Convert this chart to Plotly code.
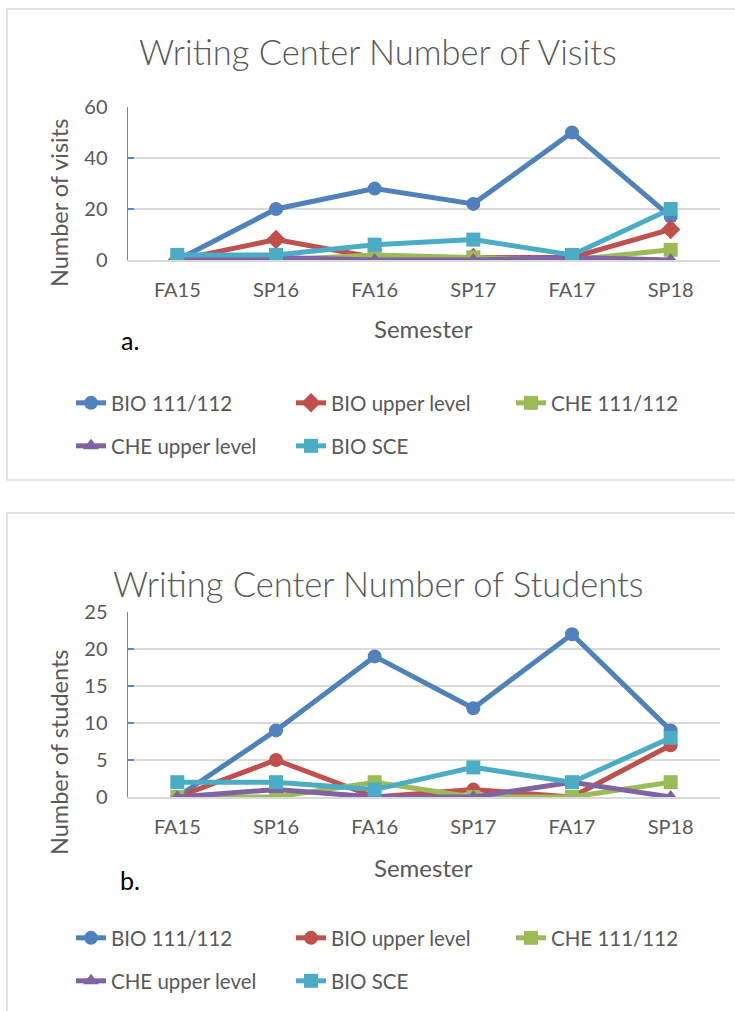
import plotly.graph_objects as go

W, H = 735, 1011

semesters = ["FA15", "SP16", "FA16", "SP17", "FA17", "SP18"]
series_names = ["BIO 111/112", "BIO upper level", "CHE 111/112", "CHE upper level", "BIO SCE"]
colors = ["#4F81BD", "#C0504D", "#9BBB59", "#8064A2", "#4BACC6"]
symbols_a = ["circle", "diamond", "square", "triangle-up", "square"]
symbols_b = ["circle", "circle", "square", "triangle-up", "square"]

# Panel a: number of visits
visits_bio111 = [0, 20, 28, 22, 50, 17]
visits_bio_upper = [0, 8, 1, 1, 1, 12]
visits_che111 = [0, 0, 2, 1, 0, 4]
visits_che_upper = [0, 1, 0, 0, 1, 0]
visits_bio_sce = [2, 2, 6, 8, 2, 20]

# Panel b: number of students
students_bio111 = [0, 9, 19, 12, 22, 9]
students_bio_upper = [0, 5, 0, 1, 0, 7]
students_che111 = [0, 0, 2, 0, 0, 2]
students_che_upper = [0, 1, 0, 0, 2, 0]
students_bio_sce = [2, 2, 1, 4, 2, 8]

visits = [visits_bio111, visits_bio_upper, visits_che111, visits_che_upper, visits_bio_sce]
students = [students_bio111, students_bio_upper, students_che111, students_che_upper, students_bio_sce]

FONT = "Lato"
GRAY = "#595959"


def px(x):
    return x / W


def py(y):
    return 1 - y / H


fig = go.Figure()

legend_rows_a = ["legend", "legend", "legend", "legend3", "legend3"]
legend_rows_b = ["legend2", "legend2", "legend2", "legend4", "legend4"]

for i, name in enumerate(series_names):
    fig.add_trace(go.Scatter(
        x=semesters, y=visits[i], name=name, mode="lines+markers",
        line=dict(color=colors[i], width=5),
        marker=dict(symbol=symbols_a[i], size=14 if symbols_a[i] != "diamond" else 15, color=colors[i]),
        xaxis="x", yaxis="y", legend=legend_rows_a[i],
    ))
for i, name in enumerate(series_names):
    fig.add_trace(go.Scatter(
        x=semesters, y=students[i], name=name, mode="lines+markers",
        line=dict(color=colors[i], width=5),
        marker=dict(symbol=symbols_b[i], size=14, color=colors[i]),
        xaxis="x2", yaxis="y2", legend=legend_rows_b[i],
    ))

xdom = [px(128), px(720)]
common_x = dict(
    type="category", range=[-0.5, 5.5], showline=True, linecolor="#D9D9D9", linewidth=1.5,
    showgrid=False, ticks="", tickfont=dict(family=FONT, size=20, color=GRAY),
    ticklabelstandoff=11, domain=xdom, fixedrange=True,
)
common_y = dict(
    showline=True, linecolor="#5B8BC8", linewidth=1.5, ticks="inside", ticklen=6,
    tickcolor="#5B8BC8", tickwidth=1.5, showgrid=True, gridcolor="#D9D9D9", gridwidth=1.5,
    zeroline=False, tickfont=dict(family=FONT, size=20, color=GRAY), ticklabelstandoff=15,
    fixedrange=True,
)

legend_common = dict(
    orientation="h", xanchor="left", yanchor="middle", bgcolor="rgba(0,0,0,0)",
    font=dict(family=FONT, size=20.5, color=GRAY), entrywidth=175, entrywidthmode="pixels",
    itemclick=False, itemdoubleclick=False,
)

fig.update_layout(
    width=W, height=H, margin=dict(l=0, r=0, t=0, b=0, autoexpand=False),
    paper_bgcolor="white", plot_bgcolor="white",
    showlegend=True, hovermode=False,
    xaxis=dict(common_x, anchor="y"),
    yaxis=dict(common_y, anchor="x", domain=[py(260), py(107)], range=[0, 60], dtick=20),
    xaxis2=dict(common_x, anchor="y2"),
    yaxis2=dict(common_y, anchor="x2", domain=[py(797), py(612)], range=[0, 25], dtick=5),
    legend=dict(legend_common, x=px(71), y=py(403)),
    legend3=dict(legend_common, x=px(71), y=py(446)),
    legend2=dict(legend_common, x=px(71), y=py(938)),
    legend4=dict(legend_common, x=px(71), y=py(981)),
)

# Chart frames
fig.add_shape(type="rect", xref="paper", yref="paper", x0=px(7), x1=1.02, y0=py(480), y1=py(9),
              line=dict(color="#D9D9D9", width=1.5), layer="below")
fig.add_shape(type="rect", xref="paper", yref="paper", x0=px(7), x1=1.02, y0=-0.02, y1=py(513),
              line=dict(color="#D9D9D9", width=1.5), layer="below")

anns = [
    dict(text="Writing Center Number of Visits", x=px(378), y=py(52), size=34.5, color=GRAY, angle=0, w=300),
    dict(text="Writing Center Number of Students", x=px(378), y=py(583), size=34.5, color=GRAY, angle=0, w=300),
    dict(text="Number of visits", x=px(59), y=py(203), size=23.5, color=GRAY, angle=-90, w=400),
    dict(text="Number of students", x=px(59), y=py(752), size=23.5, color=GRAY, angle=-90, w=400),
    dict(text="Semester", x=px(423), y=py(329), size=24, color=GRAY, angle=0, w=400),
    dict(text="Semester", x=px(423), y=py(867), size=24, color=GRAY, angle=0, w=400),
    dict(text="a.", x=px(130), y=py(340), size=25, color="black", angle=0, w=400),
    dict(text="b.", x=px(130), y=py(880), size=25, color="black", angle=0, w=400),
]
for a in anns:
    fig.add_annotation(text=a["text"], x=a["x"], y=a["y"], xref="paper", yref="paper",
                       xanchor="center", yanchor="middle", showarrow=False, textangle=a["angle"],
                       font=dict(family=FONT, size=a["size"], color=a["color"], weight=a["w"]))

fig.write_html(
    "out.html",
    config={"displayModeBar": False, "staticPlot": True},
    post_script=(
        "document.documentElement.style.margin='0';"
        "document.body.style.margin='0';document.body.style.padding='0';"
        "document.body.style.overflow='hidden';"
        "var gd=document.querySelector('.plotly-graph-div');"
        "gd.style.position='absolute';gd.style.top='0px';gd.style.left='0px';"
    ),
)
